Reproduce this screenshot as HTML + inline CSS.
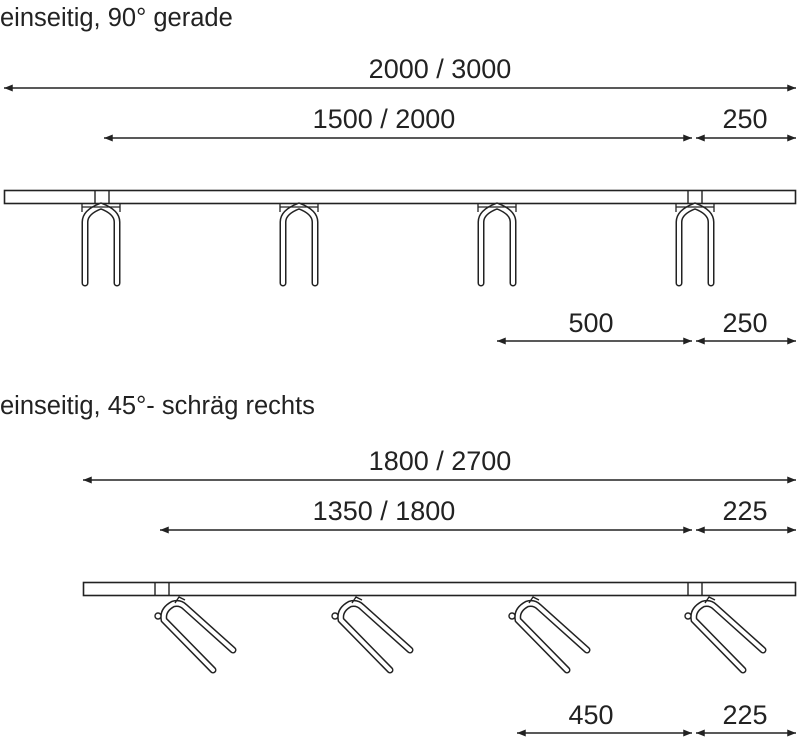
<!DOCTYPE html>
<html><head><meta charset="utf-8"><style>
html,body{margin:0;padding:0;background:#fff;}
svg{display:block;}
text{font-family:"Liberation Sans",sans-serif;font-size:27px;fill:#222;}
text.t{font-size:25.5px;}
</style></head><body>
<svg width="800" height="737" viewBox="0 0 800 737" xmlns="http://www.w3.org/2000/svg">
<defs>
<marker id="a" viewBox="0 0 10 8" refX="10" refY="4" markerWidth="9" markerHeight="7" orient="auto-start-reverse" markerUnits="userSpaceOnUse"><path d="M0,0 L10,4 L0,8 Z" fill="#222"/></marker>
<g id="vs">
<path d="M-16,283 L-16,222 Q-16,212 0,206 Q16,212 16,222 L16,283" fill="none" stroke="#222" stroke-width="7" stroke-linecap="round"/>
<path d="M-16,283 L-16,222 Q-16,212 0,206 Q16,212 16,222 L16,283" fill="none" stroke="#fff" stroke-width="4" stroke-linecap="round"/>
<path d="M-19,204 L-19,212 M19,204 L19,212 M-19,207 L19,207" stroke="#222" stroke-width="1.3" fill="none"/>
</g>
<g id="as">
<path d="M35,72 L-14,22 Q-16,12 -5,6 Q2,4 7,9 L55,52" fill="none" stroke="#222" stroke-width="7" stroke-linecap="round"/>
<path d="M35,72 L-14,22 Q-16,12 -5,6 Q2,4 7,9 L55,52" fill="none" stroke="#fff" stroke-width="4" stroke-linecap="round"/>
<circle cx="-20" cy="18" r="3" fill="#fff" stroke="#222" stroke-width="1.4"/>
<path d="M-3,5 L1,-1 L7,2" fill="none" stroke="#222" stroke-width="1.4"/>
</g>
</defs>
<g stroke="#222" stroke-width="1.4" fill="none">
<line x1="4" y1="88" x2="796" y2="88" marker-start="url(#a)" marker-end="url(#a)"/>
<line x1="104" y1="138" x2="692" y2="138" marker-start="url(#a)" marker-end="url(#a)"/>
<line x1="696" y1="138" x2="796" y2="138" marker-start="url(#a)" marker-end="url(#a)"/>
<line x1="497" y1="341" x2="692" y2="341" marker-start="url(#a)" marker-end="url(#a)"/>
<line x1="696" y1="341" x2="796" y2="341" marker-start="url(#a)" marker-end="url(#a)"/>
<line x1="83" y1="480" x2="796" y2="480" marker-start="url(#a)" marker-end="url(#a)"/>
<line x1="160" y1="530" x2="692" y2="530" marker-start="url(#a)" marker-end="url(#a)"/>
<line x1="696" y1="530" x2="796" y2="530" marker-start="url(#a)" marker-end="url(#a)"/>
<line x1="517" y1="733" x2="692" y2="733" marker-start="url(#a)" marker-end="url(#a)"/>
<line x1="696" y1="733" x2="796" y2="733" marker-start="url(#a)" marker-end="url(#a)"/>
<rect x="4.5" y="190.5" width="791" height="13" stroke-width="1.6"/>
<path d="M95,191 V203 M109,191 V203 M688,191 V203 M702,191 V203" />
<rect x="83.5" y="582.5" width="712" height="13" stroke-width="1.6"/>
<path d="M155,583 V595 M169,583 V595 M688,583 V595 M702,583 V595" />
</g>
<use href="#vs" x="101"/><use href="#vs" x="299"/><use href="#vs" x="497"/><use href="#vs" x="695"/>
<use href="#as" x="178" y="598"/><use href="#as" x="355" y="598"/><use href="#as" x="532" y="598"/><use href="#as" x="708" y="598"/>
<text class="t" x="0" y="26">einseitig, 90° gerade</text>
<text x="440" y="78" text-anchor="middle">2000 / 3000</text>
<text x="384" y="128" text-anchor="middle">1500 / 2000</text>
<text x="745" y="128" text-anchor="middle">250</text>
<text x="591" y="332" text-anchor="middle">500</text>
<text x="745" y="332" text-anchor="middle">250</text>
<text class="t" x="0" y="414">einseitig, 45°- schräg rechts</text>
<text x="440" y="470" text-anchor="middle">1800 / 2700</text>
<text x="384" y="520" text-anchor="middle">1350 / 1800</text>
<text x="745" y="520" text-anchor="middle">225</text>
<text x="591" y="724" text-anchor="middle">450</text>
<text x="745" y="724" text-anchor="middle">225</text>
</svg>
</body></html>
